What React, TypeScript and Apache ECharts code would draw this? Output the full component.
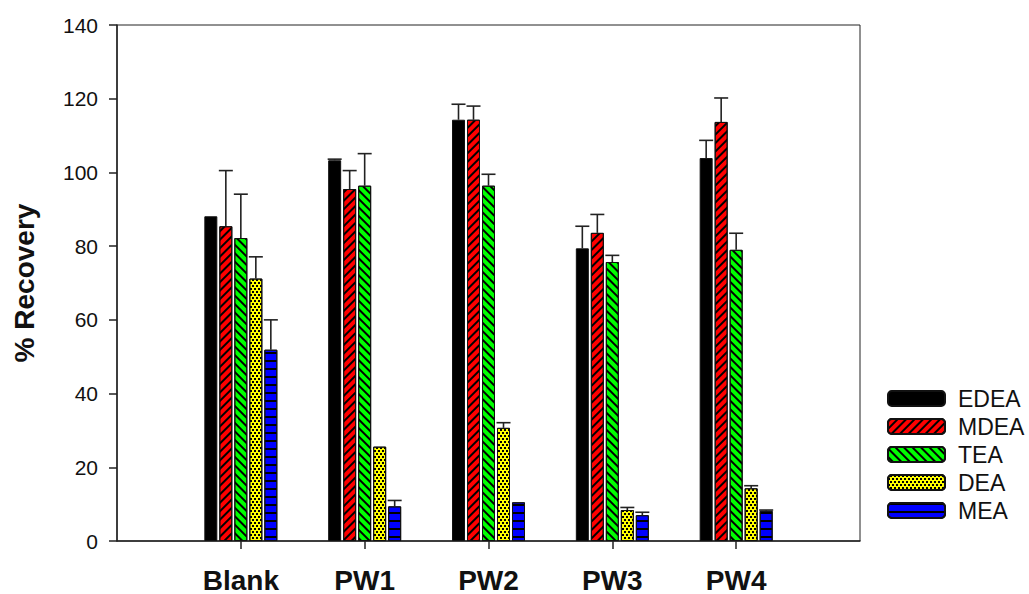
import React, { useEffect, useRef } from "react";
import * as echarts from "echarts";

// Sample groups; empty slots pad the axis so the groups sit at positions 1..5 of 0..6
const categories = ["Blank", "PW1", "PW2", "PW3", "PW4"];
const axisCategories = ["", ...categories, ""];

const seriesNames = ["EDEA", "MDEA", "TEA", "DEA", "MEA"];

// % recovery per amine
const edea = [88.1, 103.3, 114.3, 79.4, 103.9];
const mdea = [85.4, 95.5, 114.3, 83.6, 113.7];
const tea = [82.2, 96.4, 96.4, 75.7, 79.0];
const dea = [71.2, 25.6, 30.7, 8.4, 14.3];
const mea = [51.9, 9.4, 10.5, 7.0, 8.2];

// Upper error (standard deviation)
const edeaErr = [0, 0.3, 4.2, 6.0, 4.8];
const mdeaErr = [15.1, 5.0, 3.7, 5.0, 6.5];
const teaErr = [11.9, 8.7, 3.1, 1.8, 4.5];
const deaErr = [5.9, 0, 1.4, 0.7, 0.7];
const meaErr = [8.1, 1.6, 0, 0.8, 0.2];

const yTicks = [0, 20, 40, 60, 80, 100, 120, 140];

const FONT = "'Liberation Sans', Arial, sans-serif";
const BAR_W = 13;
const BAR_GAP = 2;

const valuesList = [edea, mdea, tea, dea, mea];
const errList = [edeaErr, mdeaErr, teaErr, deaErr, meaErr];
const colors = ["#000000", "#ff0000", "#00ff00", "#ffff00", "#0000ff"];

const decals: any[] = [
  undefined,
  {
    color: "#000",
    symbol: "rect",
    symbolSize: 1,
    dashArrayX: [1, 0],
    dashArrayY: [1.4, 3.2],
    rotation: -Math.PI / 4,
  },
  {
    color: "#000",
    symbol: "rect",
    symbolSize: 1,
    dashArrayX: [1, 0],
    dashArrayY: [1.4, 3.2],
    rotation: Math.PI / 4,
  },
  {
    color: "#000",
    symbol: "rect",
    symbolSize: 1,
    dashArrayX: [
      [1.5, 1.5],
      [0, 1.5, 1.5, 0],
    ],
    dashArrayY: [1.5, 0.8],
    rotation: 0,
  },
  {
    color: "#000",
    symbol: "rect",
    symbolSize: 1,
    dashArrayX: [1, 0],
    dashArrayY: [1.2, 5.8],
    rotation: 0,
  },
];

export default function App() {
  const ref = useRef<HTMLDivElement>(null);

  useEffect(() => {
    if (!ref.current) return;
    const chart = echarts.init(ref.current, undefined, { renderer: "svg" });

    const barSeries = seriesNames.map((name, s) => ({
      name,
      type: "bar",
      data: [null, ...valuesList[s], null],
      barWidth: BAR_W,
      barGap: `${(BAR_GAP / BAR_W) * 100}%`,
      itemStyle: {
        color: colors[s],
        borderColor: "#111",
        borderWidth: 1,
        decal: decals[s],
      },
      z: 2,
    }));

    const pitch = BAR_W + BAR_GAP;
    const errSeries = seriesNames.map((name, s) => ({
      name: name + " error",
      type: "custom",
      z: 3,
      data: valuesList[s].map((v, i) => [i + 1, v, errList[s][i]]),
      renderItem: (params: any, api: any) => {
        const idx = api.value(0);
        const v = api.value(1);
        const e = api.value(2);
        if (!e) return null;
        const base = api.coord([idx, v]);
        const top = api.coord([idx, v + e]);
        const x = base[0] + (s - 2) * pitch;
        const style = { stroke: "#222", lineWidth: 1.6 };
        return {
          type: "group",
          children: [
            { type: "line", shape: { x1: x, y1: base[1], x2: x, y2: top[1] }, style },
            { type: "line", shape: { x1: x - 7, y1: top[1], x2: x + 7, y2: top[1] }, style },
          ],
        };
      },
    }));

    chart.setOption({
      animation: false,
      backgroundColor: "#ffffff",
      grid: {
        left: 117,
        top: 25,
        width: 743,
        height: 520,
        show: true,
        borderColor: "#222",
        borderWidth: 1,
        backgroundColor: "transparent",
      },
      legend: {
        orient: "vertical",
        left: 887,
        top: 387,
        padding: 0,
        itemWidth: 57,
        itemHeight: 15,
        itemGap: 5,
        data: seriesNames,
        textStyle: {
          fontFamily: FONT,
          fontSize: 23,
          color: "#111",
          padding: [0, 0, 0, 8],
        },
      },
      xAxis: {
        type: "category",
        data: axisCategories,
        boundaryGap: false,
        axisLine: { lineStyle: { color: "#222", width: 1.5 } },
        axisTick: {
          length: 8,
          lineStyle: { color: "#222", width: 1.5 },
          interval: (i: number, v: string) => v !== "",
        },
        axisLabel: {
          fontFamily: FONT,
          fontSize: 28,
          fontWeight: "bold",
          color: "#111",
          margin: 25,
          interval: 0,
        },
        splitLine: { show: false },
      },
      yAxis: {
        type: "value",
        min: yTicks[0],
        max: yTicks[yTicks.length - 1],
        interval: 20,
        name: "% Recovery",
        nameLocation: "middle",
        nameGap: 79,
        nameTextStyle: {
          fontFamily: FONT,
          fontSize: 28,
          fontWeight: "bold",
          color: "#111",
        },
        axisLine: { show: true, lineStyle: { color: "#222", width: 1.5 } },
        axisTick: { show: true, length: 8, lineStyle: { color: "#222", width: 1.5 } },
        axisLabel: {
          fontFamily: FONT,
          fontSize: 21,
          color: "#111",
          margin: 19,
        },
        splitLine: { show: false },
      },
      series: [...barSeries, ...errSeries],
    });

    return () => chart.dispose();
  }, []);

  return (
    <div
      ref={ref}
      style={{ position: "fixed", left: 0, top: 0, width: 1029, height: 594 }}
    />
  );
}
